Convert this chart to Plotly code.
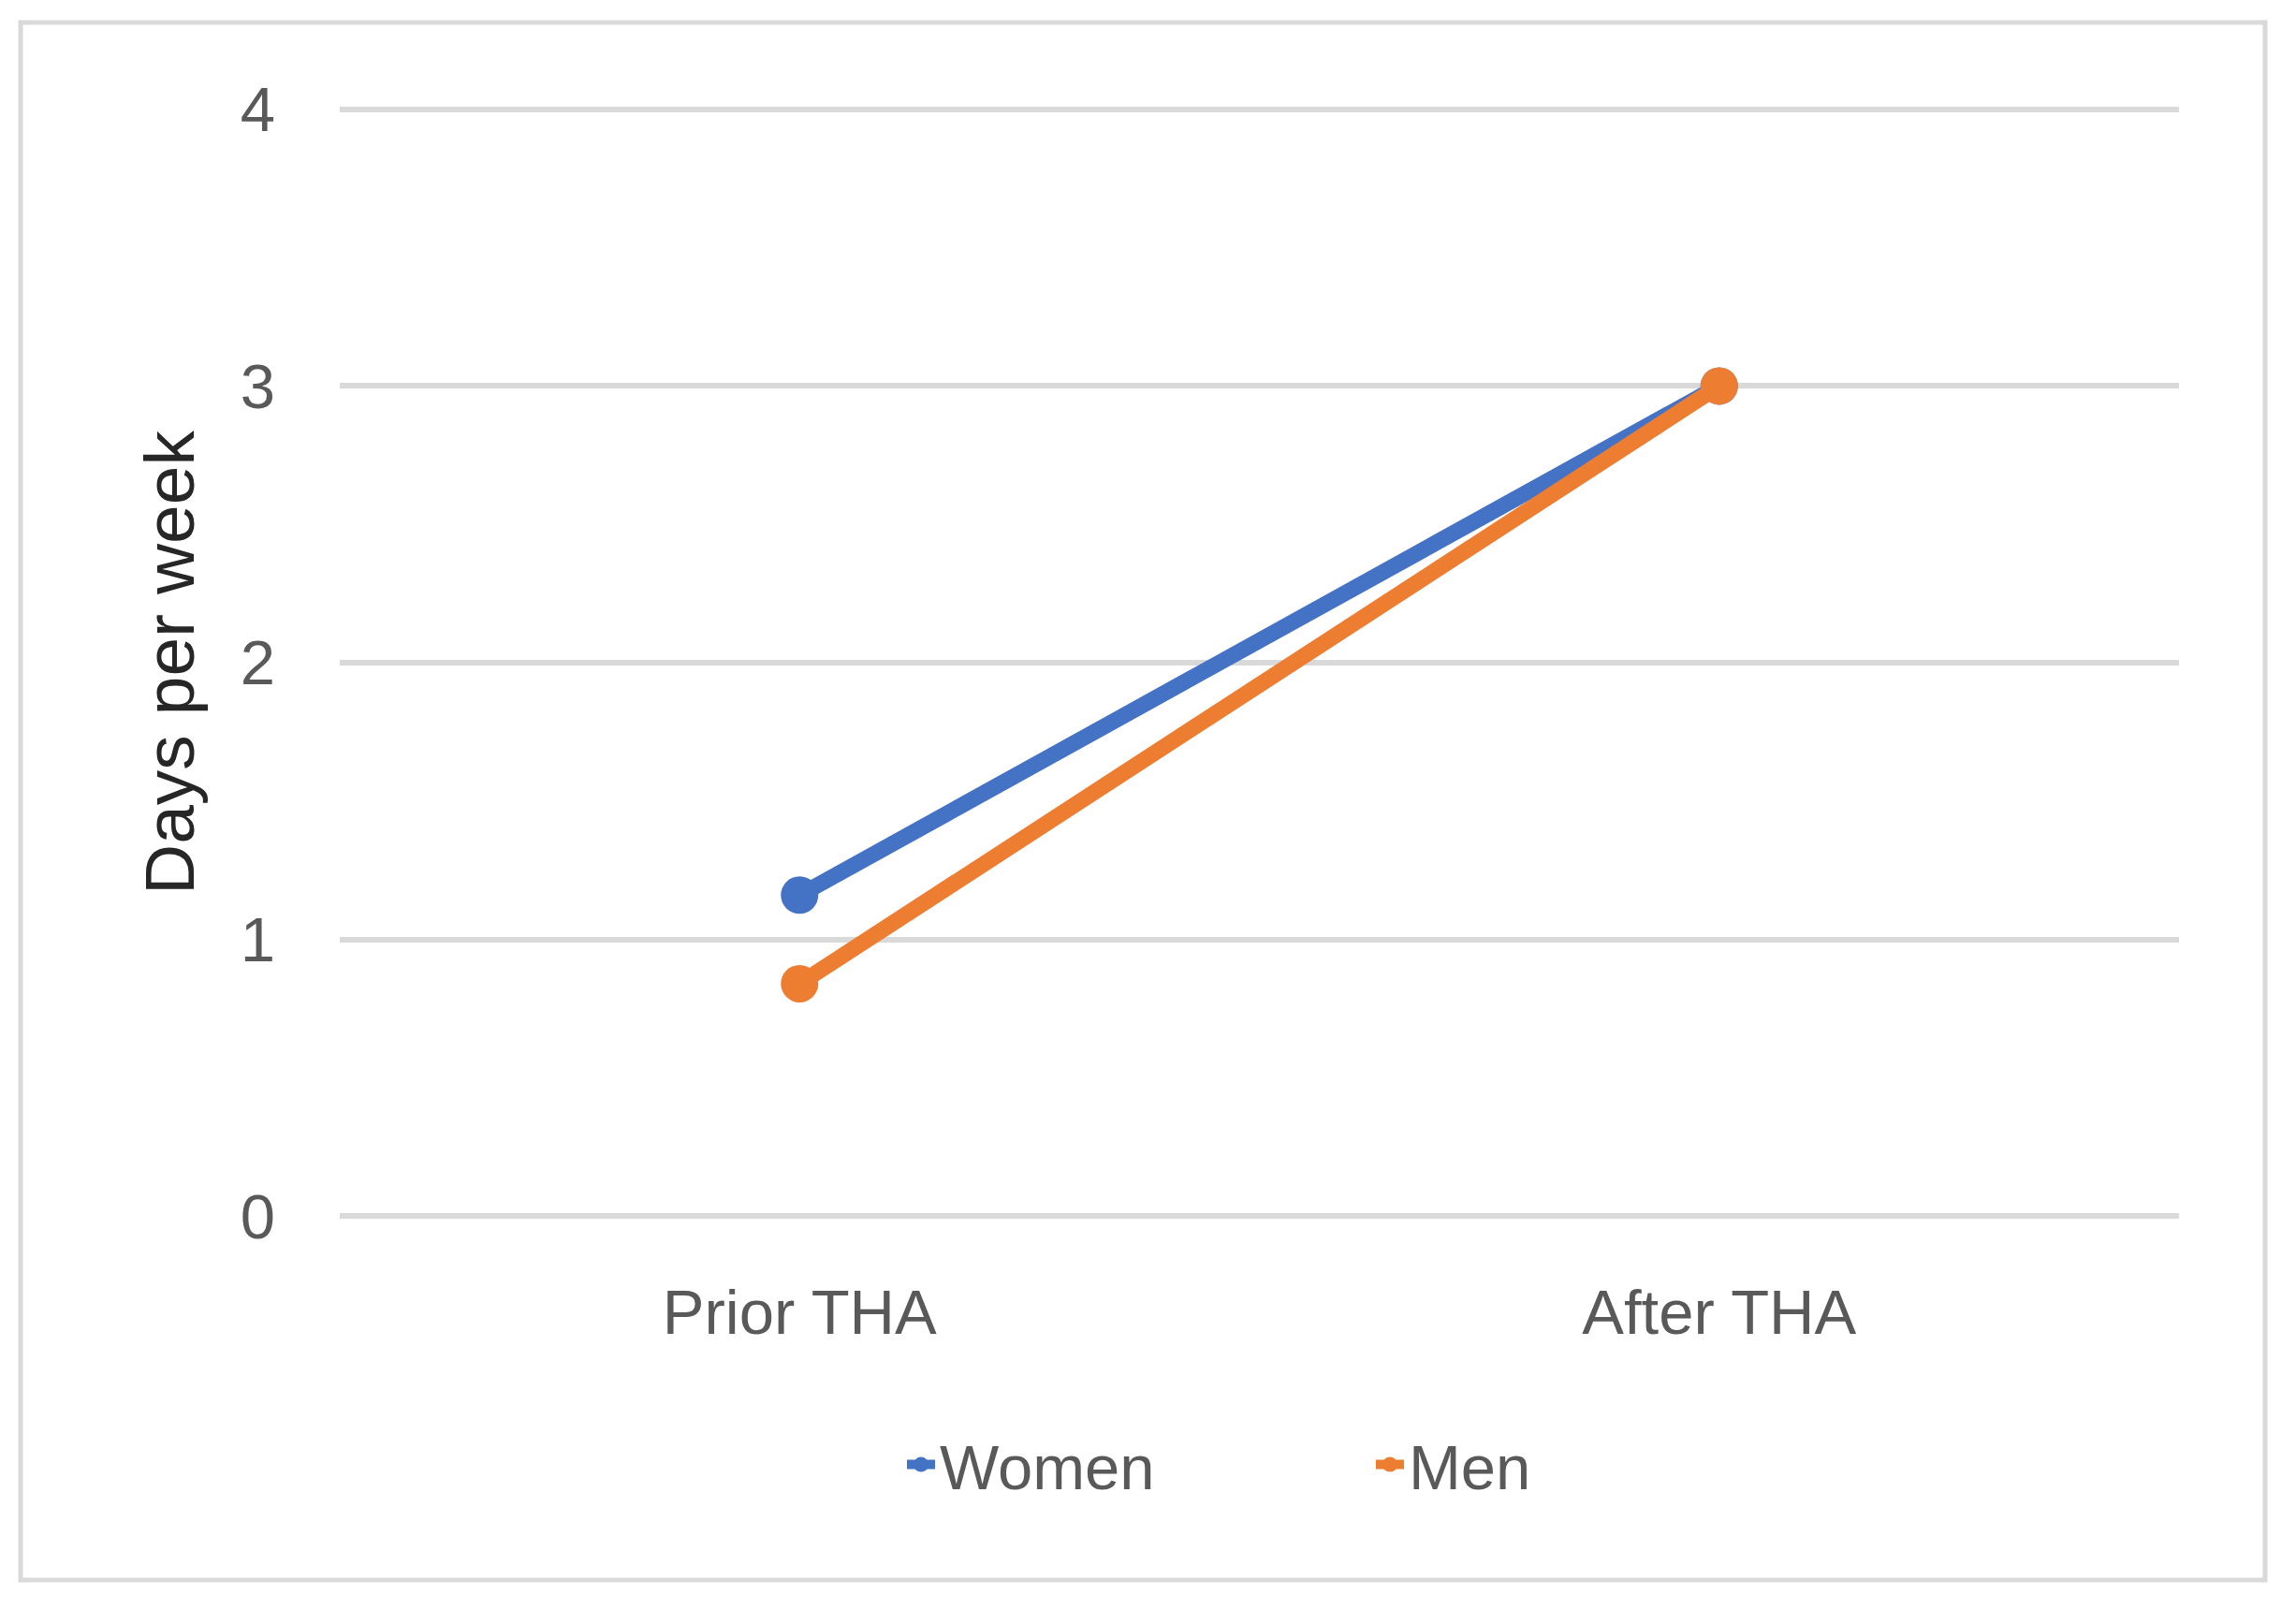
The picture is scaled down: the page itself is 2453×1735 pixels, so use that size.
import plotly.graph_objects as go

categories = ["Prior THA", "After THA"]
women = [1.16, 3.0]
men = [0.84, 3.0]
y_ticks = [0, 1, 2, 3, 4]

W, H = 2453, 1735
L, R, T, B = 363, 125, 115, 434
pw, ph = W - L - R, H - T - B

def px_x(p):
    return (p - L) / pw

def px_y(p):
    return (H - B - p) / ph

font = "Liberation Sans, Arial, sans-serif"
grey = "#595959"

fig = go.Figure()
fig.add_trace(go.Scatter(x=categories, y=women, name="Women", mode="lines+markers",
                         line=dict(color="#4472C4", width=17),
                         marker=dict(size=40, color="#4472C4")))
fig.add_trace(go.Scatter(x=categories, y=men, name="Men", mode="lines+markers",
                         line=dict(color="#ED7D31", width=17),
                         marker=dict(size=40, color="#ED7D31")))

fig.update_layout(
    width=W, height=H,
    margin=dict(l=L, r=R, t=T, b=B),
    paper_bgcolor="white", plot_bgcolor="white",
    font=dict(family=font, size=67, color=grey),
    showlegend=True,
    legend=dict(orientation="h", x=px_x(1465), y=px_y(1565),
                xanchor="center", yanchor="middle",
                font=dict(size=67, color=grey), itemsizing="trace",
                entrywidth=456, entrywidthmode="pixels",
                bgcolor="rgba(0,0,0,0)"),
    shapes=[dict(type="rect", xref="paper", yref="paper",
                 x0=px_x(22), x1=px_x(2420), y0=px_y(24), y1=px_y(1688),
                 line=dict(color="#D9D9D9", width=5), fillcolor="rgba(0,0,0,0)",
                 layer="below")],
)

fig.update_xaxes(type="category", range=[-0.5, 1.5], showgrid=False,
                 showline=False, zeroline=False, ticks="",
                 tickfont=dict(size=67, color=grey), ticklabelstandoff=56)
fig.update_yaxes(range=[-0.006, 4.006], tickvals=y_ticks, showgrid=True, gridcolor="#D9D9D9",
                 gridwidth=6, zeroline=False, showline=False, ticks="",
                 tickfont=dict(size=67, color=grey), ticklabelstandoff=68,
                 title=dict(text="Days per week", font=dict(size=75, color="#262626"),
                            standoff=24))

fig.write_html("out.html", config={"displayModeBar": False},
               post_script="document.body.style.margin='0';document.body.style.overflow='hidden';")
